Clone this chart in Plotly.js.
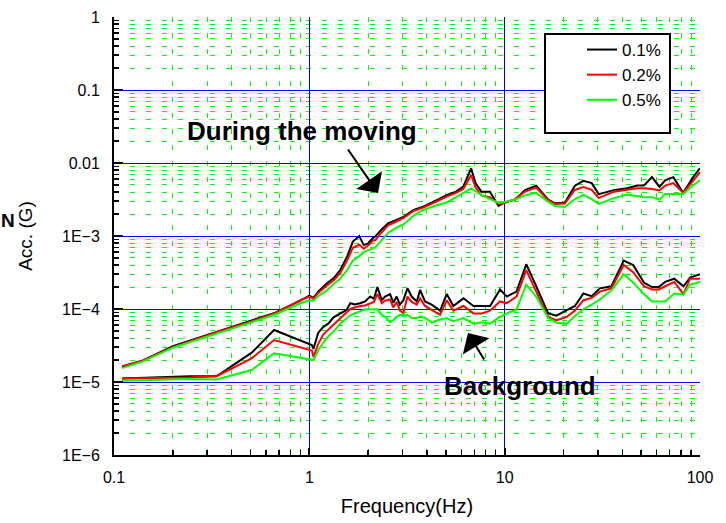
<!DOCTYPE html>
<html>
<head>
<meta charset="utf-8">
<script src="https://cdn.plot.ly/plotly-3.0.1.min.js"></script>
<style>html,body{margin:0;padding:0;background:#fff;}#chart{width:726px;height:523px;}</style>
</head>
<body>
<div id="chart"></div>
<script>
// ---- Data ----
const seriesNames = ['0.1%', '0.2%', '0.5%'];

// "During the moving"
const freqMoving = [0.11,0.14,0.2,0.33,0.5,0.67,0.9,1.0,1.05,1.11,1.23,1.33,1.44,1.56,1.67,1.8,1.9,2.0,2.11,2.18,2.33,2.53,2.79,3.05,3.42,3.83,4.33,5.08,5.64,6.14,6.73,7.1,7.6,8.4,9.3,9.9,11.3,12.7,14.5,16.7,18.1,20.3,22.9,25.3,27.9,30.3,36.2,42.4,47.7,51.6,56.8,62,66.3,73,82,92.7,100];
const moving01 = [1.62e-5,1.96e-5,3.1e-5,4.8e-5,6.8e-5,8.9e-5,1.3e-4,1.52e-4,1.42e-4,1.73e-4,2.25e-4,2.63e-4,3.42e-4,5.2e-4,8.4e-4,1.0e-3,7.5e-4,7.9e-4,9.3e-4,9.9e-4,1.21e-3,1.49e-3,1.66e-3,1.84e-3,2.27e-3,2.52e-3,2.95e-3,3.65e-3,4.05e-3,4.74e-3,8.46e-3,5.27e-3,4.05e-3,4.05e-3,2.58e-3,2.86e-3,3.15e-3,4.25e-3,4.9e-3,3.15e-3,2.8e-3,2.86e-3,4.9e-3,5.7e-3,5.3e-3,3.75e-3,4.25e-3,4.5e-3,4.9e-3,4.9e-3,6.4e-3,4.7e-3,5.8e-3,6.4e-3,3.9e-3,6.5e-3,8.5e-3];
const moving02 = [1.65e-5,1.96e-5,3.0e-5,4.75e-5,6.7e-5,8.8e-5,1.32e-4,1.48e-4,1.38e-4,1.65e-4,2.1e-4,2.45e-4,3.1e-4,4.6e-4,6.9e-4,7.6e-4,6.7e-4,7.4e-4,8.6e-4,8.8e-4,1.1e-3,1.4e-3,1.58e-3,1.78e-3,2.2e-3,2.45e-3,2.85e-3,3.5e-3,3.9e-3,4.4e-3,6.85e-3,4.6e-3,3.6e-3,3.4e-3,2.75e-3,2.8e-3,3.2e-3,4.05e-3,4.6e-3,3.1e-3,2.75e-3,2.78e-3,4.3e-3,4.7e-3,4.3e-3,3.3e-3,4.05e-3,4.3e-3,4.5e-3,4.5e-3,4.4e-3,4.2e-3,4.9e-3,5.3e-3,3.9e-3,5.8e-3,7.5e-3];
const moving05 = [1.55e-5,1.9e-5,2.95e-5,4.6e-5,6.5e-5,8.4e-5,1.2e-4,1.32e-4,1.3e-4,1.5e-4,1.8e-4,2.2e-4,2.6e-4,3.4e-4,4.6e-4,5.3e-4,6.0e-4,6.4e-4,6.7e-4,7.0e-4,8.6e-4,1.1e-3,1.3e-3,1.45e-3,1.9e-3,2.27e-3,2.55e-3,2.9e-3,3.4e-3,3.9e-3,4.5e-3,4.1e-3,3.65e-3,3.2e-3,2.86e-3,2.9e-3,3.15e-3,3.6e-3,3.9e-3,2.95e-3,2.58e-3,2.5e-3,3.2e-3,3.65e-3,3.2e-3,2.75e-3,3.3e-3,3.7e-3,3.5e-3,3.4e-3,3.4e-3,3.15e-3,3.75e-3,3.75e-3,3.75e-3,5.0e-3,5.8e-3];

// "Background"
const freqBackground = [0.11,0.245,0.335,0.507,0.66,1.03,1.05,1.11,1.18,1.25,1.33,1.44,1.55,1.62,1.71,1.82,1.93,2.05,2.14,2.23,2.35,2.44,2.59,2.69,2.8,2.91,3.03,3.18,3.34,3.55,3.69,3.91,4.23,4.67,5.05,5.46,6.15,6.92,7.64,8.42,9.47,10.25,11.5,12.9,14.5,16.7,18.4,20.8,22.9,25.3,27.9,30.7,35.2,40.7,45.5,51.6,56.8,61.5,66.3,73.8,82.3,89,100];
const background01 = [1.12e-5,1.2e-5,1.2e-5,2.52e-5,5.15e-5,3.2e-5,2.85e-5,4.7e-5,5.7e-5,6.3e-5,7.7e-5,8.7e-5,9.7e-5,1.2e-4,1.15e-4,1.2e-4,1.27e-4,1.48e-4,1.38e-4,2.0e-4,1.32e-4,1.48e-4,1.6e-4,1.22e-4,1.48e-4,1.15e-4,1.32e-4,1.92e-4,1.48e-4,1.27e-4,1.82e-4,1.27e-4,1.15e-4,9.5e-5,1.6e-4,1.1e-4,1.4e-4,1.1e-4,1.1e-4,1.1e-4,1.85e-4,1.48e-4,1.73e-4,4.1e-4,2.05e-4,8.7e-5,8.1e-5,9.7e-5,1.1e-4,1.63e-4,1.5e-4,1.92e-4,2.05e-4,4.6e-4,4.0e-4,2.3e-4,2.0e-4,2.0e-4,2.35e-4,2.6e-4,2.05e-4,2.7e-4,3.0e-4];
const background02 = [1.12e-5,1.15e-5,1.2e-5,2.11e-5,3.76e-5,2.7e-5,2.2e-5,3.3e-5,4.5e-5,5.2e-5,6.2e-5,7.5e-5,9.0e-5,1.0e-4,1.05e-4,1.1e-4,1.12e-4,1.2e-4,1.25e-4,1.6e-4,1.2e-4,1.3e-4,1.35e-4,1.05e-4,1.25e-4,9.5e-5,8.8e-5,1.48e-4,1.25e-4,1.15e-4,1.4e-4,1.1e-4,9.7e-5,8.3e-5,1.32e-4,9.5e-5,1.1e-4,8.7e-5,8.7e-5,9.5e-5,1.27e-4,1.2e-4,1.48e-4,3.4e-4,1.73e-4,7.8e-5,7.0e-5,7.8e-5,9.5e-5,1.32e-4,1.42e-4,1.73e-4,1.92e-4,4.0e-4,3.2e-4,2.05e-4,1.85e-4,1.85e-4,2.05e-4,2.35e-4,1.6e-4,2.6e-4,2.6e-4];
const background05 = [1.04e-5,1.1e-5,1.08e-5,1.46e-5,2.47e-5,2.05e-5,2.0e-5,2.7e-5,3.5e-5,4.2e-5,4.9e-5,6.3e-5,7.5e-5,8.2e-5,8.7e-5,9.3e-5,9.9e-5,9.9e-5,9.9e-5,9.9e-5,8.3e-5,7.8e-5,6.6e-5,7.0e-5,7.8e-5,8.3e-5,8.3e-5,8.3e-5,7.5e-5,7.5e-5,7.8e-5,7.6e-5,6.5e-5,7.2e-5,7.5e-5,6.8e-5,7.5e-5,6.3e-5,6.6e-5,6.3e-5,7.8e-5,8.7e-5,9.8e-5,2.15e-4,1.48e-4,7.5e-5,6.5e-5,6.3e-5,8.0e-5,9.9e-5,1.15e-4,1.35e-4,1.8e-4,3.0e-4,2.3e-4,1.6e-4,1.27e-4,1.27e-4,1.27e-4,1.63e-4,1.58e-4,2.15e-4,2.35e-4];

// Tick labels
const xTickVals = [0.1, 1, 10, 100];
const xTickText = ['0.1', '1', '10', '100'];
const yTickVals = [1e-6, 1e-5, 1e-4, 1e-3, 0.01, 0.1, 1];
const yTickText = ['1E\u22126', '1E\u22125', '1E\u22124', '1E\u22123', '0.01', '0.1', '1'];

// ---- Styles ----
const colors = ['#000000', '#ff0000', '#00ff00'];
const FONT = 'Liberation Sans, Arial, Noto Sans CJK JP, sans-serif';

function minorTicks(d0, d1) {
  const out = [];
  for (let d = d0; d < d1; d++) for (let k = 2; k <= 9; k++) out.push(+(k * Math.pow(10, d)).toPrecision(3));
  return out;
}

const movingSets = [moving01, moving02, moving05];
const backgroundSets = [background01, background02, background05];
const traces = [];
for (let i = 0; i < 3; i++) {
  traces.push({x: freqMoving, y: movingSets[i], type: 'scatter', mode: 'lines', name: seriesNames[i],
    line: {color: colors[i], width: 2}});
}
for (let i = 0; i < 3; i++) {
  traces.push({x: freqBackground, y: backgroundSets[i], type: 'scatter', mode: 'lines', name: seriesNames[i] + ' background',
    showlegend: false, line: {color: colors[i], width: 2}});
}

const W = 726, H = 523, L = 114, R = 26, T = 17, B = 68;
const pw = W - L - R, ph = H - T - B;
const px = v => (v - L) / pw;
const py = v => (H - B - v) / ph;

const layout = {
  width: W, height: H,
  margin: {l: L, r: R, t: T, b: B, pad: 0},
  paper_bgcolor: '#ffffff', plot_bgcolor: '#ffffff',
  font: {family: FONT, color: '#000', size: 16},
  showlegend: true,
  xaxis: {
    type: 'log', range: [-1, 2],
    tickmode: 'array', tickvals: xTickVals, ticktext: xTickText,
    ticks: 'inside', ticklen: 7, tickwidth: 2, tickcolor: '#000',
    showline: true, linecolor: '#000', linewidth: 2, mirror: false,
    showgrid: true, gridcolor: '#0000ff', gridwidth: 1,
    zeroline: false, ticklabelstandoff: 7,
    tickfont: {size: 16, family: FONT},
    minor: {tickmode: 'array', tickvals: minorTicks(-1, 2), ticks: 'inside', ticklen: 5, tickwidth: 1.5, tickcolor: '#000',
      showgrid: true, gridcolor: '#00ff00', gridwidth: 1, griddash: '5px,11px'},
    title: {text: 'Frequency(Hz)', font: {size: 20, family: FONT}, standoff: 14}
  },
  yaxis: {
    type: 'log', range: [-6, 0],
    tickmode: 'array', tickvals: yTickVals, ticktext: yTickText,
    ticks: 'inside', ticklen: 9, tickwidth: 2, tickcolor: '#000',
    showline: true, linecolor: '#000', linewidth: 2, mirror: false,
    showgrid: true, gridcolor: '#0000ff', gridwidth: 1,
    zeroline: false, ticklabelstandoff: 9,
    tickfont: {size: 16, family: FONT},
    minor: {tickmode: 'array', tickvals: minorTicks(-6, 0), ticks: 'inside', ticklen: 5, tickwidth: 1.5, tickcolor: '#000',
      showgrid: true, gridcolor: '#00ff00', gridwidth: 1, griddash: '5px,11px'},
    title: {text: 'Acc. (G)', font: {size: 19, family: FONT}, standoff: 24}
  },
  legend: {
    x: px(582), y: py(32), xanchor: 'left', yanchor: 'top',
    bgcolor: 'rgba(0,0,0,0)', borderwidth: 0,
    font: {size: 17, family: FONT}, itemwidth: 30
  },
  shapes: [
    {type: 'rect', xref: 'paper', yref: 'paper', x0: px(545), x1: px(670), y0: py(133), y1: py(34),
      line: {color: '#000', width: 2}, fillcolor: '#ffffff', layer: 'above'}
  ],
  annotations: [
    {xref: 'paper', yref: 'paper', x: px(302), y: py(131), text: '<b>During the moving</b>', showarrow: false,
      font: {size: 26, family: FONT}, xanchor: 'center', yanchor: 'middle'},
    {xref: 'paper', yref: 'paper', x: px(520), y: py(386), text: '<b>Background</b>', showarrow: false,
      font: {size: 26, family: FONT}, xanchor: 'center', yanchor: 'middle'},
    {xref: 'paper', yref: 'paper', x: px(378), y: py(193), text: '', showarrow: true, ax: -31, ay: -45,
      arrowhead: 1, arrowsize: 2.6, arrowwidth: 2, arrowcolor: '#000', standoff: 0},
    {xref: 'paper', yref: 'paper', x: px(468), y: py(333), text: '', showarrow: true, ax: 17, ay: 28,
      arrowhead: 1, arrowsize: 2.6, arrowwidth: 2, arrowcolor: '#000', standoff: 0},
    {xref: 'paper', yref: 'paper', x: px(0), y: py(220), text: '<b>N</b>', showarrow: false,
      font: {size: 19, family: FONT}, xanchor: 'left', yanchor: 'middle', borderpad: 0}
  ]
};

Plotly.newPlot('chart', traces, layout, {displayModeBar: false, staticPlot: true});
</script>
</body>
</html>
